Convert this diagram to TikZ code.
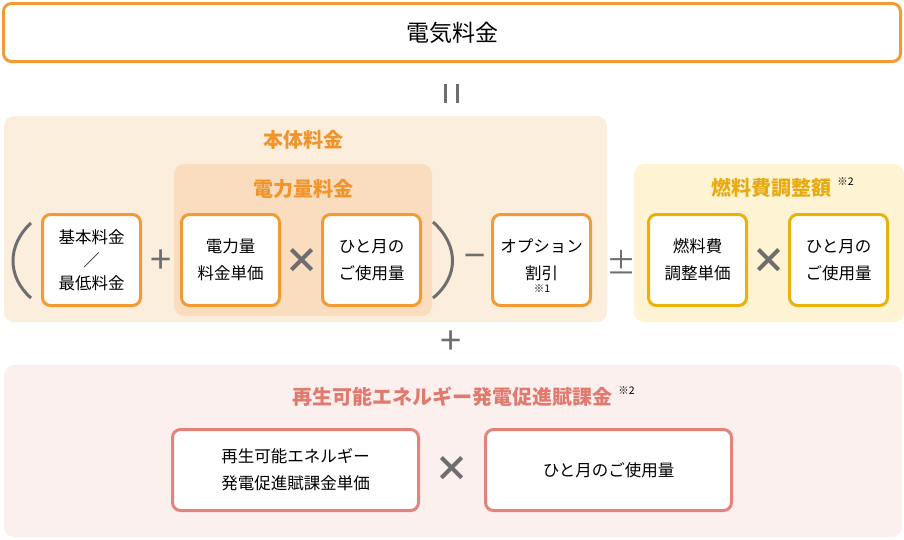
\documentclass[tikz,border=0pt]{standalone}
\usepackage{fontspec}
\setmainfont{Noto Sans CJK JP}
\usetikzlibrary{positioning}
\definecolor{obrd}{HTML}{F29B34}
\definecolor{otxt}{HTML}{F0942C}
\definecolor{honbg}{HTML}{FCEEDD}
\definecolor{denbg}{HTML}{FADDBE}
\definecolor{gbrd}{HTML}{E8B10C}
\definecolor{gtxt}{HTML}{E8AA14}
\definecolor{goldbg}{HTML}{FEF3D3}
\definecolor{pbrd}{HTML}{E4837A}
\definecolor{ptxt}{HTML}{E07A6E}
\definecolor{pinkbg}{HTML}{FCF0EF}
\definecolor{opgray}{HTML}{6E6E6E}

\begin{document}
\begin{tikzpicture}[
  x=1pt, y=-1pt,
  box/.style={rectangle, draw, line width=3pt, rounded corners=8pt, fill=white, minimum width=98pt, minimum height=91pt, align=center, inner sep=0pt, font=\fontsize{16.5}{27}\selectfont},
  obox/.style={box, draw=obrd},
  gbox/.style={box, draw=gbrd},
  pbox/.style={box, draw=pbrd, minimum width=246pt, minimum height=81pt},
  ttl/.style={inner sep=0pt, font=\fontsize{20}{24}\selectfont\bfseries},
  op/.style={inner sep=0pt, text=opgray, font=\fontsize{38}{38}\selectfont},
  timesop/.style={op, font=\fontsize{35}{35}\selectfont\bfseries},
  note/.style={inner sep=0pt, font=\fontsize{10.5}{10.5}\selectfont},
  node distance=40pt
]
\useasboundingbox (0,0) rectangle (904,539);

% backgrounds
\fill[honbg, rounded corners=10pt] (4,116) rectangle (607,322);
\fill[denbg, rounded corners=10pt] (174,164) rectangle (432,316);
\fill[goldbg, rounded corners=10pt] (634,164) rectangle (904,322);
\fill[pinkbg, rounded corners=10pt] (4,365) rectangle (902,537);

% total
\node[box, draw=obrd, minimum width=897pt, minimum height=58pt, font=\fontsize{23}{26}\selectfont] (total) at (452,32.5) {電気料金};
\draw[opgray, line width=2.6pt] (445.5,84) -- (445.5,103) (457.5,84) -- (457.5,103);

% main part
\node[ttl, text=otxt] (hontitle) at (303,140) {本体料金};
\node[ttl, text=otxt] (dentitle) at (303,189) {電力量料金};

\node[obox, font=\fontsize{16.5}{23}\selectfont] (kihon) at (91.5,260) {基本料金\\／\\最低料金};
\node[obox, right=38pt of kihon] (tanka) {電力量\\料金単価};
\node[obox, right=40pt of tanka] (tsuki1) {ひと月の\\ご使用量};
\node[obox, right=69pt of tsuki1] (option) {オプション\\割引};
\node[note] (note1) at (542,289) {※1};

\draw[opgray, line width=3pt] (31,223) .. controls (7,245) and (7,277) .. (31,298);
\draw[opgray, line width=3pt] (433,222) .. controls (459,245) and (459,277) .. (433,298);

\node[op] (plus1) at (161,262) {+};
\node[timesop] (times1) at (302,261) {×};
\node[op] (minus1) at (475,262) {−};
\node[op, font=\fontsize{30}{30}\selectfont] (pm) at (621,262) {±};

% fuel adjustment
\node[ttl, text=gtxt] (nentitle) at (771,188) {燃料費調整額};
\node[note, anchor=north west] (note2) at ([xshift=6pt, yshift=1pt]nentitle.north east) {※2};
\node[gbox, right=55pt of option] (nenryo) {燃料費\\調整単価};
\node[gbox, right=40pt of nenryo] (tsuki2) {ひと月の\\ご使用量};
\node[timesop] (times2) at (769,261) {×};

\node[op] (plus2) at (451,343) {+};

% renewable surcharge
\node[ttl, text=ptxt] (saititle) at (452,397) {再生可能エネルギー発電促進賦課金};
\node[note, anchor=north west] (note3) at ([xshift=6pt, yshift=1pt]saititle.north east) {※2};
\node[pbox] (saiene) at (295.5,470) {再生可能エネルギー\\発電促進賦課金単価};
\node[pbox, right=64pt of saiene] (tsuki3) {ひと月のご使用量};
\node[timesop] (times3) at (452,469) {×};
\end{tikzpicture}
\end{document}
